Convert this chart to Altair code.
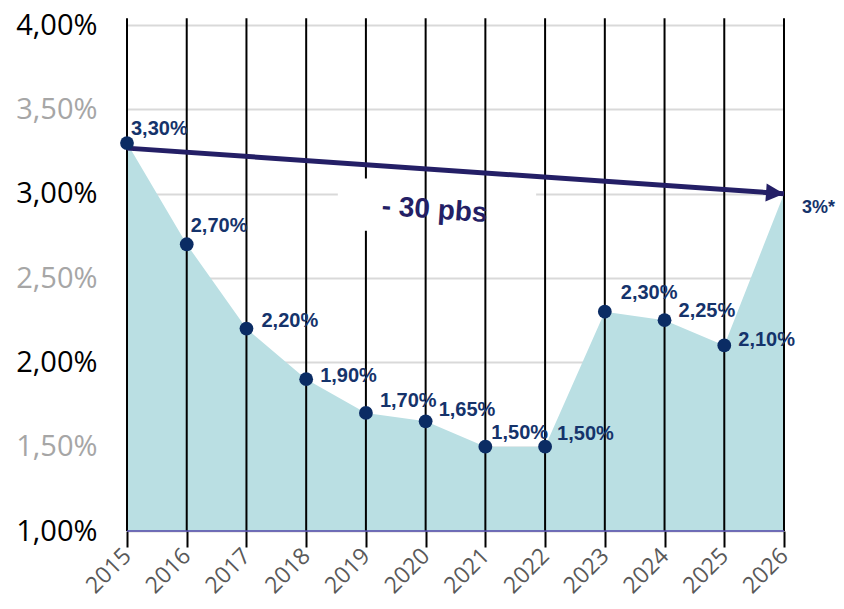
import altair as alt
import pandas as pd

# ---- data ----
years = list(range(2015, 2027))
rates = [3.30, 2.70, 2.20, 1.90, 1.70, 1.65, 1.50, 1.50, 2.30, 2.25, 2.10, 3.00]
rate_labels = ["3,30%", "2,70%", "2,20%", "1,90%", "1,70%", "1,65%",
               "1,50%", "1,50%", "2,30%", "2,25%", "2,10%", "3%*"]
y_ticks = [1.0, 1.5, 2.0, 2.5, 3.0, 3.5, 4.0]
arrow_years = [2015, 2026]
arrow_rates = [3.27, 3.00]
note_text = "- 30 pbs"

df = pd.DataFrame({"year": years, "rate": rates, "label": rate_labels})
df["base"] = 1.0
arrow_df = pd.DataFrame({"year": arrow_years, "rate": arrow_rates})

# ---- layout / style ----
NAVY = "#0B2C64"
LABEL_NAVY = "#15336B"
ARROW = "#241F66"
label_offsets = {2015: (4, -14), 2016: (4, -18), 2017: (15, -8), 2018: (14, -3),
                 2019: (14, -12), 2020: (13, -11), 2021: (6, -14), 2022: (12, -13),
                 2023: (16, -19), 2024: (14, -9), 2025: (14, -5), 2026: (18, 14)}

xs = alt.Scale(domain=[2015, 2026], nice=False, zero=False)
ys = alt.Scale(domain=[1, 4], nice=False, zero=False)

x_axis = alt.Axis(values=years, format="d", labelAngle=-45, labelAlign="right",
                  labelBaseline="middle", labelFont="Open Sans", labelFontSize=23,
                  labelColor="#595959", tickSize=16, tickColor="black", tickWidth=2,
                  domain=False, grid=False, title=None, labelPadding=5,
                  labelOverlap=False)
y_axis = alt.Axis(values=y_ticks,
                  labelExpr="replace(format(datum.value, '.2f'), '.', ',') + '%'",
                  labelFont="Open Sans", labelFontSize=29,
                  labelColor=alt.condition("datum.value % 1 != 0", alt.value("#A6A6A6"), alt.value("#000000")),
                  labelPadding=30, domain=False, ticks=False, grid=True,
                  gridColor="#D9D9D9", gridWidth=2, title=None, labelOverlap=False)

base = alt.Chart(df)

area = base.mark_area(color="#BADFE3", opacity=1).encode(
    x=alt.X("year:Q", scale=xs, axis=x_axis),
    y=alt.Y("rate:Q", scale=ys, axis=y_axis),
    y2="base:Q",
)

white_wide = alt.Chart(df).mark_rect(color="white").encode(
    x=alt.datum(2018.53), x2=alt.datum(2021.85),
    y=alt.datum(3.09), y2=alt.datum(2.78),
).transform_filter(alt.datum.year == 2015)

vrules = base.mark_rule(color="black", strokeWidth=2).encode(
    x=alt.X("year:Q", scale=xs), y=alt.datum(1), y2=alt.datum(4.04)
)

white_narrow = alt.Chart(df).mark_rect(color="white").encode(
    x=alt.datum(2018.92), x2=alt.datum(2019.08),
    y=alt.datum(3.09), y2=alt.datum(2.78),
).transform_filter(alt.datum.year == 2015)

baseline = alt.Chart(df).mark_rule(color="#4F47A8", strokeWidth=1.5).encode(
    x=alt.datum(2015), x2=alt.datum(2026), y=alt.datum(1)
).transform_filter(alt.datum.year == 2015)

arrow_line = alt.Chart(arrow_df).mark_line(color=ARROW, strokeWidth=5).encode(
    x=alt.X("year:Q", scale=xs), y=alt.Y("rate:Q", scale=ys)
)
arrow_head = alt.Chart(arrow_df).mark_point(
    shape="M0,0 L-1.8,-0.9 L-1.8,0.9 Z", size=400, filled=True, opacity=1,
    color=ARROW, angle=4
).encode(x="year:Q", y="rate:Q").transform_filter(alt.datum.year == 2026)

dots = base.mark_circle(size=190, color=NAVY, opacity=1).encode(
    x="year:Q", y="rate:Q"
).transform_filter(alt.datum.year < 2026)

label_layers = []
for yr, (dx, dy) in label_offsets.items():
    fs = 18 if yr == 2026 else 20
    label_layers.append(
        base.mark_text(font="Liberation Sans", fontWeight="bold", fontSize=fs,
                       color=LABEL_NAVY, align="left", baseline="middle", dx=dx, dy=dy)
        .encode(x="year:Q", y="rate:Q", text="label:N")
        .transform_filter(alt.datum.year == yr)
    )

note = alt.Chart(df).mark_text(
    text=note_text, font="Liberation Sans", fontWeight="bold", fontSize=28,
    color=ARROW, angle=4, align="center", baseline="middle"
).encode(x=alt.datum(2020.15), y=alt.datum(2.90)).transform_filter(alt.datum.year == 2015)

chart = alt.layer(
    area, white_wide, vrules, white_narrow, baseline, arrow_line, arrow_head,
    dots, *label_layers, note
).properties(
    width=657, height=506,
    autosize=alt.AutoSizeParams(type="none"),
    padding={"left": 119, "top": 17, "right": 52, "bottom": 70},
).configure_view(stroke=None)

chart.save("out.html", embed_options={"renderer": "svg", "actions": False})
